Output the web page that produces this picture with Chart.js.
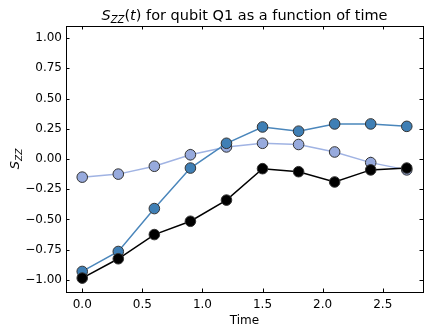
<!DOCTYPE html>
<html>
<head>
<meta charset="utf-8">
<script src="https://cdn.jsdelivr.net/npm/chart.js@4"></script>
<style>
  body { margin: 0; background: #fff; }
  #wrap { width: 430px; height: 333px; }
</style>
</head>
<body>
<div id="wrap"><canvas id="myChart" width="430" height="333"></canvas></div>
<script>
// data
const times = [0.0, 0.3, 0.6, 0.9, 1.2, 1.5, 1.8, 2.1, 2.4, 2.7];
const szzA = [-0.93, -0.765, -0.41, -0.075, 0.13, 0.265, 0.23, 0.29, 0.29, 0.27];
const szzB = [-0.15, -0.125, -0.06, 0.035, 0.10, 0.13, 0.12, 0.058, -0.03, -0.09];
const szzBErr = [0.03, 0.03, 0.03, 0.05, 0.03, 0.03, 0.03, 0.03, 0.05, 0.03];
const szzC = [-0.985, -0.825, -0.625, -0.515, -0.34, -0.08, -0.105, -0.19, -0.09, -0.075];
const xTicks = [0.0, 0.5, 1.0, 1.5, 2.0, 2.5];
const yTicks = [-1.0, -0.75, -0.5, -0.25, 0.0, 0.25, 0.5, 0.75, 1.0];

const FONT = "'DejaVu Sans', sans-serif";
const minus = s => s.replace('-', '\u2212');

function pts(ys) {
  return times.map((t, i) => ({ x: t, y: ys[i] }));
}

// frame, inward ticks on all sides, error bars, title and axis labels
const decor = {
  id: 'decor',
  beforeDatasetsDraw(chart) {
    const ctx = chart.ctx;
    const xs = chart.scales.x, ys = chart.scales.y;
    ctx.save();
    ctx.strokeStyle = '#a0b3e3';
    ctx.lineWidth = 1.5;
    szzB.forEach((v, i) => {
      const px = xs.getPixelForValue(times[i]);
      ctx.beginPath();
      ctx.moveTo(px, ys.getPixelForValue(v - szzBErr[i]));
      ctx.lineTo(px, ys.getPixelForValue(v + szzBErr[i]));
      ctx.stroke();
    });
    ctx.restore();
  },
  afterDraw(chart) {
    const ctx = chart.ctx;
    const a = chart.chartArea;
    const xs = chart.scales.x, ys = chart.scales.y;
    const L = 3.5;
    ctx.save();
    ctx.strokeStyle = '#000';
    ctx.lineWidth = 1;
    ctx.strokeRect(Math.round(a.left) + 0.5, Math.round(a.top) + 0.5,
      Math.round(a.right - a.left), Math.round(a.bottom - a.top));
    ctx.beginPath();
    xTicks.forEach(t => {
      const px = Math.round(xs.getPixelForValue(t)) + 0.5;
      ctx.moveTo(px, a.bottom); ctx.lineTo(px, a.bottom - L);
      ctx.moveTo(px, a.top); ctx.lineTo(px, a.top + L);
    });
    yTicks.forEach(t => {
      const py = Math.round(ys.getPixelForValue(t)) + 0.5;
      ctx.moveTo(a.left, py); ctx.lineTo(a.left + L, py);
      ctx.moveTo(a.right, py); ctx.lineTo(a.right - L, py);
    });
    ctx.stroke();

    ctx.fillStyle = '#000';
    ctx.textBaseline = 'alphabetic';
    // title: S_ZZ(t) for qubit Q1 as a function of time
    const cx = (a.left + a.right) / 2;
    const parts = [
      { t: 'S', f: 'italic 14.5px ' + FONT, dy: 0 },
      { t: 'ZZ', f: 'italic 10px ' + FONT, dy: 3 },
      { t: '(', f: '14.5px ' + FONT, dy: 0 },
      { t: 't', f: 'italic 14.5px ' + FONT, dy: 0 },
      { t: ') for qubit Q1 as a function of time', f: '14.5px ' + FONT, dy: 0 }
    ];
    let w = 0;
    parts.forEach(p => { ctx.font = p.f; w += ctx.measureText(p.t).width; });
    let x = cx - w / 2;
    parts.forEach(p => {
      ctx.font = p.f;
      ctx.fillText(p.t, x, 20 + p.dy);
      x += ctx.measureText(p.t).width;
    });
    // x label
    ctx.font = '12px ' + FONT;
    ctx.textAlign = 'center';
    ctx.fillText('Time', cx, 324);
    // y label
    ctx.translate(19, (a.top + a.bottom) / 2);
    ctx.rotate(-Math.PI / 2);
    ctx.textAlign = 'left';
    ctx.font = 'italic 13px ' + FONT;
    const sw = ctx.measureText('S').width;
    ctx.font = 'italic 9px ' + FONT;
    const zw = ctx.measureText('ZZ').width;
    ctx.font = 'italic 13px ' + FONT;
    ctx.fillText('S', -(sw + zw) / 2, 0);
    ctx.font = 'italic 9px ' + FONT;
    ctx.fillText('ZZ', -(sw + zw) / 2 + sw, 3);
    ctx.restore();
  }
};

const ds = (ys, line, fill, order) => ({
  data: pts(ys),
  borderColor: line,
  borderWidth: 1.5,
  pointBackgroundColor: fill,
  pointBorderColor: '#333',
  pointBorderWidth: 1,
  pointRadius: 5.3,
  tension: 0,
  order: order
});

new Chart(document.getElementById('myChart'), {
  type: 'line',
  data: {
    datasets: [
      ds(szzB, '#a0b3e3', '#97aadd', 3),
      ds(szzA, '#4a86bb', '#3f7fb5', 2),
      ds(szzC, '#000000', '#000000', 1)
    ]
  },
  options: {
    responsive: false,
    animation: false,
    layout: { padding: { top: 26, right: 7, left: 0, bottom: 0 } },
    plugins: { legend: { display: false }, tooltip: { enabled: false } },
    scales: {
      x: {
        type: 'linear',
        min: -0.135,
        max: 2.835,
        afterBuildTicks: s => { s.ticks = xTicks.map(v => ({ value: v })); },
        afterFit: s => { s.height = 41; },
        grid: { display: false, drawTicks: false },
        border: { display: false },
        ticks: {
          padding: 6,
          color: '#000',
          font: { family: FONT, size: 12 },
          callback: v => minus(v.toFixed(1))
        }
      },
      y: {
        min: -1.1,
        max: 1.1,
        afterBuildTicks: s => { s.ticks = yTicks.map(v => ({ value: v })); },
        afterFit: s => { s.width = 66; },
        grid: { display: false, drawTicks: false },
        border: { display: false },
        ticks: {
          padding: 4,
          color: '#000',
          font: { family: FONT, size: 12 },
          callback: v => minus(v.toFixed(2))
        }
      }
    }
  },
  plugins: [decor]
});
</script>
</body>
</html>
